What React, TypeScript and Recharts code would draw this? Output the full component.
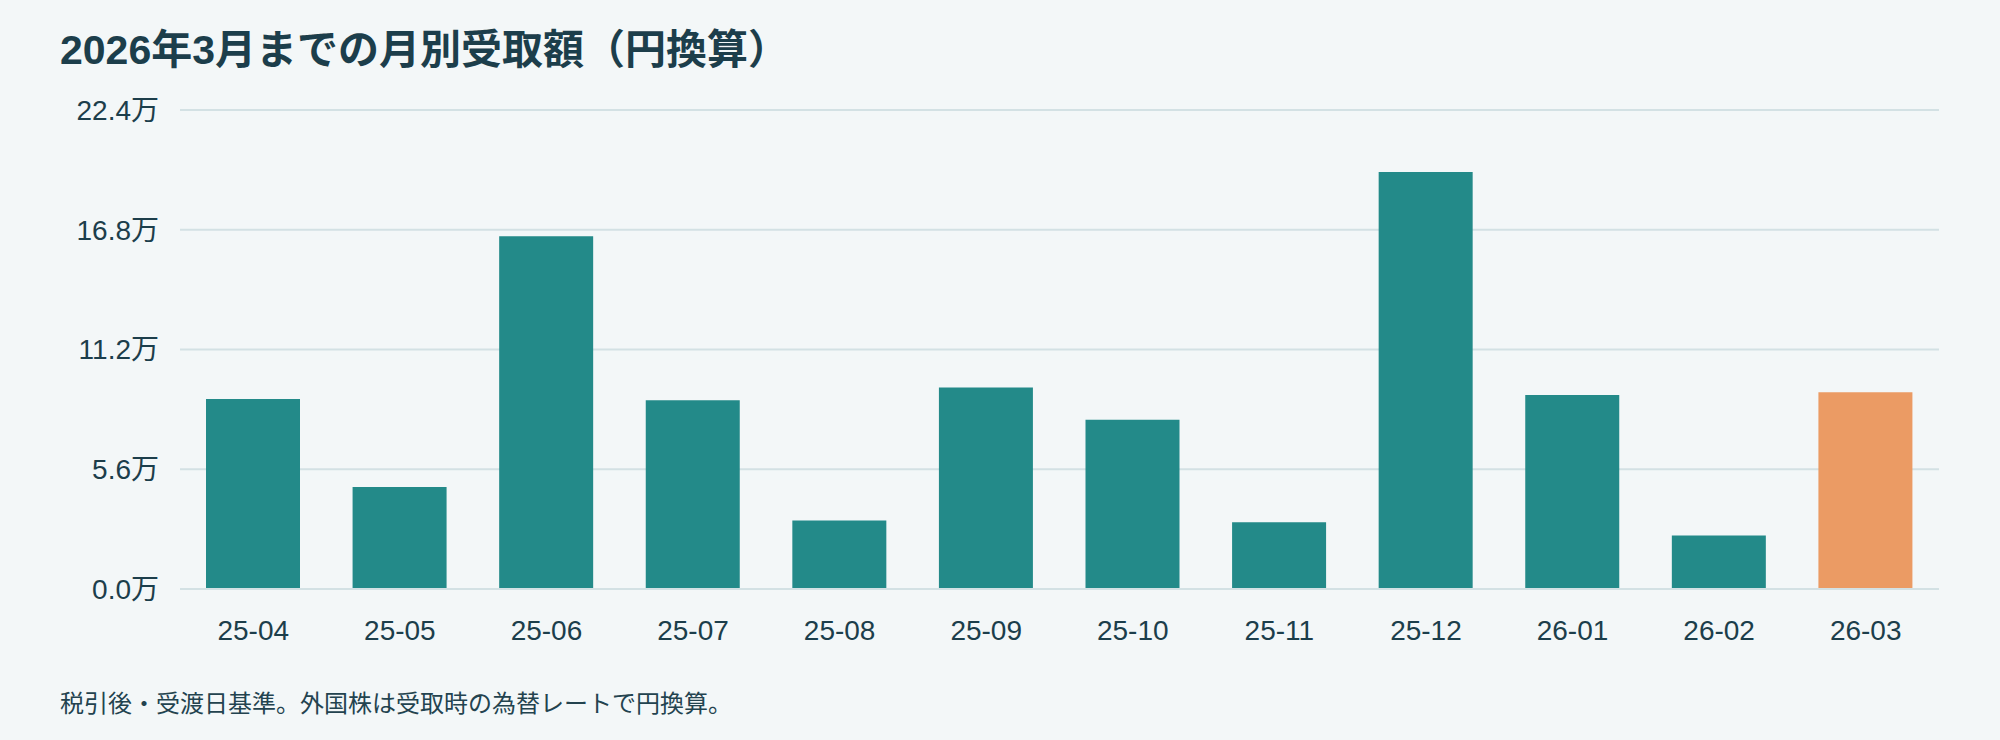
import React from 'react';
import { BarChart, Bar, XAxis, YAxis, CartesianGrid, Cell } from 'recharts';

// monthly receipts, yen (after tax, converted at the rate on the receipt date)
const months: string[] = [
  '25-04', '25-05', '25-06', '25-07', '25-08', '25-09',
  '25-10', '25-11', '25-12', '26-01', '26-02', '26-03',
];
const amounts: number[] = [
  88800, 47700, 165000, 88300, 32000, 94200,
  79200, 31200, 195000, 90700, 25000, 92000,
];
const yTicks: number[] = [0, 56000, 112000, 168000, 224000];
const currentMonth = '26-03';

const data = months.map((m, i) => ({ month: m, amount: amounts[i] }));

const BG = '#f3f7f8';
const INK = '#1c3e4b';
const TEAL = '#238a89';
const ORANGE = '#eb9b64';
const GRID = '#d3e1e4';
const FONT = "'Liberation Sans', 'Noto Sans CJK JP', sans-serif";

const fmtMan = (v: number) => `${(v / 10000).toFixed(1)}万`;

const App: React.FC = () => {
  return (
    <div
      style={{
        position: 'fixed',
        left: 0,
        top: 0,
        width: 2000,
        height: 740,
        background: BG,
        fontFamily: FONT,
        color: INK,
      }}
    >
      <div
        style={{
          position: 'absolute',
          left: 60,
          top: 30,
          fontSize: 41,
          lineHeight: '41px',
          fontWeight: 700,
          whiteSpace: 'nowrap',
        }}
      >
        2026年3月までの月別受取額（円換算）
      </div>

      <BarChart
        width={2000}
        height={740}
        data={data}
        margin={{ top: 110, right: 61, left: 60, bottom: 91 }}
        style={{ position: 'absolute', left: 0, top: 0 }}
      >
        <CartesianGrid vertical={false} stroke={GRID} strokeWidth={2} />
        <XAxis
          dataKey="month"
          height={60}
          axisLine={{ stroke: GRID, strokeWidth: 2 }}
          tickLine={false}
          tickMargin={25}
          tick={{ fill: INK, fontSize: 28, fontFamily: FONT }}
        />
        <YAxis
          width={120}
          domain={[0, 224000]}
          ticks={yTicks}
          tickFormatter={fmtMan}
          axisLine={false}
          tickLine={false}
          tickMargin={15}
          tick={{ fill: INK, fontSize: 28, fontFamily: FONT }}
        />
        <Bar dataKey="amount" barSize={94} isAnimationActive={false}>
          {data.map((d) => (
            <Cell key={d.month} fill={d.month === currentMonth ? ORANGE : TEAL} />
          ))}
        </Bar>
      </BarChart>

      <div
        style={{
          position: 'absolute',
          left: 60,
          top: 692,
          fontSize: 24,
          lineHeight: '24px',
          whiteSpace: 'nowrap',
          color: '#23434f',
        }}
      >
        税引後・受渡日基準。外国株は受取時の為替レートで円換算。
      </div>
    </div>
  );
};

export default App;
